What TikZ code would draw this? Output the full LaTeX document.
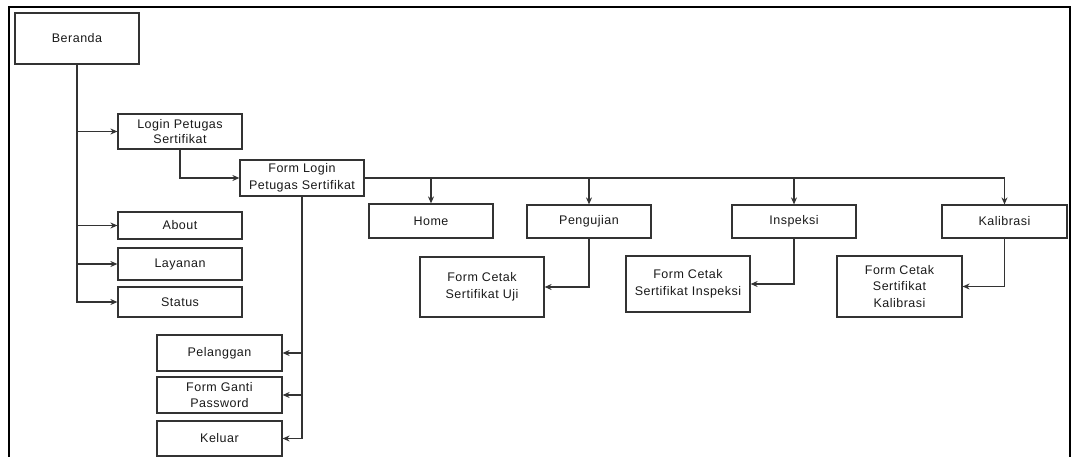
\documentclass[tikz,border=0pt]{standalone}
\usepackage{fontspec}
\setmainfont{Liberation Sans}[LetterSpace=4]
\usetikzlibrary{arrows.meta}
\begin{document}
\begin{tikzpicture}[x=1pt,y=-1pt,
  box/.style={draw=black!80,line width=1.2pt,rectangle,align=center,inner sep=1pt,
    font=\fontsize{12.5}{16.5}\selectfont,text=black!90},
  link/.style={draw=black!80,line width=1.2pt},
  arr/.style={link,-{Stealth[length=7pt,width=6pt]}}]
\useasboundingbox (0,0) rectangle (1074,457);
% frame
\draw[line width=2pt] (9,470) -- (9,7) -- (1070,7) -- (1070,470);

% left column
\node[box,minimum width=124pt,minimum height=51pt] (beranda) at (77,38.5) {Beranda};
\node[box,minimum width=124pt,minimum height=35pt,font=\fontsize{12.5}{14.5}\selectfont] (login) at (180,131.5) {Login Petugas\\Sertifikat};
\node[box,minimum width=124pt,minimum height=27pt] (about) at (180,225.5) {About};
\node[box,minimum width=124pt,minimum height=32pt] (layanan) at (180,264) {Layanan};
\node[box,minimum width=124pt,minimum height=30pt] (status) at (180,302) {Status};

\node[box,minimum width=124pt,minimum height=36pt] (formlogin) at (302,178) {Form Login\\Petugas Sertifikat};

\node[box,minimum width=125pt,minimum height=36pt] (pelanggan) at (219.5,353) {Pelanggan};
\node[box,minimum width=125pt,minimum height=36pt] (ganti) at (219.5,395) {Form Ganti\\Password};
\node[box,minimum width=125pt,minimum height=35pt] (keluar) at (219.5,438.5) {Keluar};

% menu row
\node[box,minimum width=124pt,minimum height=34pt] (home) at (431,221) {Home};
\node[box,minimum width=124pt,minimum height=33pt] (uji) at (589,221.5) {Pengujian};
\node[box,minimum width=124pt,minimum height=33pt] (insp) at (794,221.5) {Inspeksi};
\node[box,minimum width=125pt,minimum height=33pt] (kal) at (1004.5,221.5) {Kalibrasi};

% print forms
\node[box,minimum width=124pt,minimum height=60pt] (cuji) at (482,287) {Form Cetak\\Sertifikat Uji};
\node[box,minimum width=124pt,minimum height=56pt] (cinsp) at (688,284) {Form Cetak\\Sertifikat Inspeksi};
\node[box,minimum width=125pt,minimum height=61pt] (ckal) at (899.5,286.5) {Form Cetak\\Sertifikat\\Kalibrasi};

% connectors
\draw[arr] (beranda.south) |- (login.west);
\draw[arr] (beranda.south) |- (about.west);
\draw[arr] (beranda.south) |- (layanan.west);
\draw[arr] (beranda.south) |- (status.west);
\draw[arr] (login.south) |- (formlogin.west);
\draw[arr] (formlogin.east) -| (home.north);
\draw[arr] (formlogin.east) -| (uji.north);
\draw[arr] (formlogin.east) -| (insp.north);
\draw[arr] (formlogin.east) -| (kal.north);
\draw[arr] (formlogin.south) |- (pelanggan.east);
\draw[arr] (formlogin.south) |- (ganti.east);
\draw[arr] (formlogin.south) |- (keluar.east);
\draw[arr] (uji.south) |- (cuji.east);
\draw[arr] (insp.south) |- (cinsp.east);
\draw[arr] (kal.south) |- (ckal.east);
\end{tikzpicture}
\end{document}
